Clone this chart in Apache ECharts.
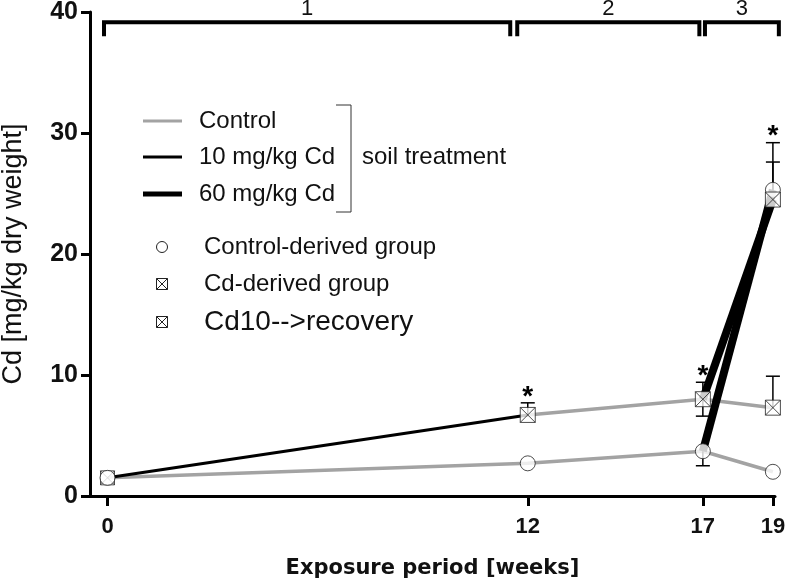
<!DOCTYPE html>
<html>
<head>
<meta charset="utf-8">
<script src="https://cdn.jsdelivr.net/npm/echarts@6/dist/echarts.min.js"></script>
<style>html,body{margin:0;padding:0;background:#fff}#c{width:787px;height:581px}</style>
</head>
<body>
<div id="c"></div>
<script>
// ---- data ----
const weeks = [0, 12, 17, 19];
const tickWeeks = [0, 12, 17, 19];
const controlGroup = [1.5, 2.7, 3.7, 2.0];          // control-derived group on control soil
const cdGroupCd10Weeks = [0, 12];
const cdGroupCd10 = [1.5, 6.7];                      // Cd-derived group on 10 mg/kg soil
const cdRecoveryWeeks = [12, 17, 19];
const cdRecovery = [6.7, 8.0, 7.3];                  // Cd10 --> recovery on control soil
const cd60Weeks = [17, 19];
const controlGroupCd60 = [3.7, 25.3];               // control-derived group on 60 mg/kg soil
const cdGroupCd60 = [8.0, 24.5];                    // Cd-derived group on 60 mg/kg soil
const errWeeks = [12, 17, 17, 19, 19, 19];
const errMean = [6.7, 8.0, 3.7, 25.3, 24.5, 7.3];
const errLow  = [6.7, 6.6, 2.5, 25.3, 24.5, 7.3];
const errHigh = [7.7, 9.4, 3.7, 29.2, 27.6, 9.9];
const starWeeks = [12, 17, 19];
const starTops = [7.7, 9.4, 29.2];
const periodStart = [-0.1, 11.7, 17.06];
const periodEnd = [11.5, 16.9, 19.17];
const periodLabels = ['1', '2', '3'];

const GREY = '#a3a3a3';
const sqPath = 'path://M0 0H20V20H0ZM0 0L20 20M20 0L0 20';
const zip = (xs, ys) => xs.map((x, i) => [x, ys[i]]);

function legendText(x, y, text, size) {
  return {type: 'text', x: x, y: y, style: {text: text, font: size + 'px "Liberation Sans"', fill: '#111', verticalAlign: 'middle'}};
}
function legendBox(cx, cy, h) {
  return {type: 'group', children: [
    {type: 'rect', shape: {x: cx - h, y: cy - h, width: 2 * h, height: 2 * h}, style: {fill: '#fff', stroke: '#222', lineWidth: 1}},
    {type: 'line', shape: {x1: cx - h, y1: cy - h, x2: cx + h, y2: cy + h}, style: {stroke: '#222', lineWidth: 1}},
    {type: 'line', shape: {x1: cx + h, y1: cy - h, x2: cx - h, y2: cy + h}, style: {stroke: '#222', lineWidth: 1}}
  ]};
}

const chart = echarts.init(document.getElementById('c'), null, {renderer: 'canvas'});
const option = {
  animation: false,
  backgroundColor: '#fff',
  grid: {left: 90, right: 12, top: 12, bottom: 85, containLabel: false, outerBoundsMode: 'none'},
  xAxis: {
    type: 'value', min: -0.5, max: 19.06,
    name: 'Exposure period [weeks]', nameLocation: 'middle', nameGap: 62,
    nameTextStyle: {fontFamily: 'DejaVu Sans', fontWeight: 'bold', fontSize: 21, color: '#111'},
    axisLine: {onZero: false, lineStyle: {color: '#000', width: 3}},
    axisTick: {customValues: tickWeeks, length: 10, lineStyle: {color: '#000', width: 3}},
    axisLabel: {customValues: tickWeeks, margin: 20, fontFamily: 'Liberation Sans', fontWeight: 'bold', fontSize: 22, color: '#111'},
    splitLine: {show: false}
  },
  yAxis: {
    type: 'value', min: 0, max: 40, interval: 10,
    name: 'Cd [mg/kg dry weight]', nameLocation: 'middle', nameGap: 63,
    nameTextStyle: {fontFamily: 'Liberation Sans', fontSize: 27, color: '#111'},
    axisLine: {onZero: false, lineStyle: {color: '#000', width: 3}},
    axisTick: {length: 9, lineStyle: {color: '#000', width: 3}},
    axisLabel: {margin: 12, fontFamily: 'Liberation Sans', fontWeight: 'bold', fontSize: 25, color: '#111'},
    splitLine: {show: false}
  },
  graphic: [
    {type: 'line', shape: {x1: 143, y1: 121, x2: 182, y2: 121}, style: {stroke: GREY, lineWidth: 3}},
    {type: 'line', shape: {x1: 143, y1: 157, x2: 182, y2: 157}, style: {stroke: '#000', lineWidth: 3}},
    {type: 'line', shape: {x1: 143, y1: 194, x2: 182, y2: 194}, style: {stroke: '#000', lineWidth: 5}},
    legendText(199, 121, 'Control', 24),
    legendText(199, 157, '10 mg/kg Cd', 24),
    legendText(199, 194, '60 mg/kg Cd', 24),
    {type: 'polyline', shape: {points: [[336, 105], [351, 105], [351, 212], [336, 212]]}, style: {stroke: '#333', lineWidth: 1, fill: null}},
    legendText(362, 157, 'soil treatment', 24),
    {type: 'circle', shape: {cx: 162, cy: 247, r: 5.5}, style: {fill: '#fff', stroke: '#222', lineWidth: 1}},
    legendText(204, 247, 'Control-derived group', 24),
    legendBox(162, 284, 5.5),
    legendText(204, 284, 'Cd-derived group', 24),
    legendBox(162, 322, 5.5),
    legendText(204, 322, 'Cd10-->recovery', 28)
  ],
  series: [
    {type: 'line', name: 'Control soil (control-derived)', data: zip(weeks, controlGroup), symbol: 'none',
     lineStyle: {color: GREY, width: 3.5}, z: 2},
    {type: 'line', name: 'Control soil (Cd10 recovery)', data: zip(cdRecoveryWeeks, cdRecovery), symbol: 'none',
     lineStyle: {color: GREY, width: 3.5}, z: 2},
    {type: 'line', name: '10 mg/kg Cd', data: zip(cdGroupCd10Weeks, cdGroupCd10), symbol: 'none',
     lineStyle: {color: '#000', width: 3}, z: 3},
    {type: 'line', name: '60 mg/kg Cd (control-derived)', data: zip(cd60Weeks, controlGroupCd60), symbol: 'none',
     lineStyle: {color: '#000', width: 8}, z: 3, clip: false},
    {type: 'line', name: '60 mg/kg Cd (Cd-derived)', data: zip(cd60Weeks, cdGroupCd60), symbol: 'none',
     lineStyle: {color: '#000', width: 8}, z: 3, clip: false},
    {type: 'custom', name: 'errors', z: 4, clip: false,
     data: errWeeks.map((w, i) => [w, errLow[i], errHigh[i], errMean[i]]),
     renderItem: function (params, api) {
       const lo = api.coord([api.value(0), api.value(1)]);
       const hi = api.coord([api.value(0), api.value(2)]);
       const kids = [
         {type: 'line', shape: {x1: lo[0], y1: lo[1], x2: hi[0], y2: hi[1]}, style: {stroke: '#000', lineWidth: 1.5}}
       ];
       if (api.value(2) > api.value(3)) kids.push({type: 'line', shape: {x1: hi[0] - 7, y1: hi[1], x2: hi[0] + 7, y2: hi[1]}, style: {stroke: '#000', lineWidth: 1.5}});
       if (api.value(1) < api.value(3)) kids.push({type: 'line', shape: {x1: lo[0] - 7, y1: lo[1], x2: lo[0] + 7, y2: lo[1]}, style: {stroke: '#000', lineWidth: 1.5}});
       return {type: 'group', children: kids};
     }},
    {type: 'custom', name: 'significance', z: 4, clip: false,
     data: zip(starWeeks, starTops),
     renderItem: function (params, api) {
       const p = api.coord([api.value(0), api.value(1)]);
       return {type: 'text', x: p[0], y: p[1] + 8, style: {text: '*', font: 'bold 28px "Liberation Sans"', fill: '#000', align: 'center', verticalAlign: 'bottom'}};
     }},
    {type: 'scatter', name: 'Cd-derived group (start)', data: [[cdGroupCd10Weeks[0], cdGroupCd10[0]]], symbol: sqPath, symbolSize: 14,
     itemStyle: {color: '#fff', borderColor: '#222', borderWidth: 1}, z: 5, clip: false},
    {type: 'scatter', name: 'Control-derived group', data: zip(weeks, controlGroup).concat([[cd60Weeks[1], controlGroupCd60[1]]]),
     symbol: 'circle', symbolSize: 15, itemStyle: {color: '#fff', borderColor: '#222', borderWidth: 1}, z: 6, clip: false},
    {type: 'scatter', name: 'Cd-derived group', data: zip(cdRecoveryWeeks, cdRecovery).concat([[cd60Weeks[1], cdGroupCd60[1]]]),
     symbol: sqPath, symbolSize: 15, itemStyle: {color: '#fff', borderColor: '#222', borderWidth: 1}, z: 7, clip: false},
    {type: 'custom', name: 'periods', z: 4, clip: false,
     data: periodStart.map((s, i) => [s, periodEnd[i], i]),
     renderItem: function (params, api) {
       const a = api.coord([api.value(0), 39.15]);
       const b = api.coord([api.value(1), 39.15]);
       const legY = api.coord([0, 38.0])[1];
       return {type: 'group', children: [
         {type: 'polyline', shape: {points: [[a[0], legY], [a[0], a[1]], [b[0], b[1]], [b[0], legY]]}, style: {stroke: '#000', lineWidth: 4, fill: null}},
         {type: 'text', x: (a[0] + b[0]) / 2, y: a[1] - 2, style: {text: periodLabels[api.value(2)], font: '22px "Liberation Sans"', fill: '#111', align: 'center', verticalAlign: 'bottom'}}
       ]};
     }}
  ]
};
chart.setOption(option);
</script>
</body>
</html>
